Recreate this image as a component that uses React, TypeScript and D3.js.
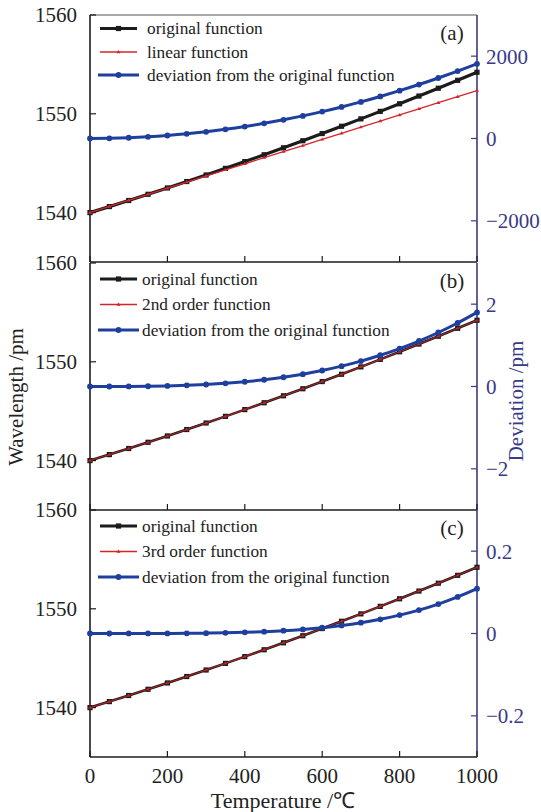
import React from 'react';
import * as d3 from 'd3';

// temperature samples (°C)
const temps = [0, 50, 100, 150, 200, 250, 300, 350, 400, 450, 500, 550, 600, 650, 700, 750, 800, 850, 900, 950, 1000];

// wavelength curves
const originalFn = [1540.0, 1540.607, 1541.225, 1541.854, 1542.493, 1543.144, 1543.805, 1544.477, 1545.161, 1545.854, 1546.559, 1547.274, 1548.001, 1548.738, 1549.486, 1550.246, 1551.015, 1551.796, 1552.588, 1553.389, 1554.203];
const linearFn = [1540.0, 1540.62, 1541.24, 1541.85, 1542.47, 1543.09, 1543.71, 1544.32, 1544.94, 1545.56, 1546.18, 1546.79, 1547.41, 1548.03, 1548.65, 1549.26, 1549.88, 1550.5, 1551.12, 1551.73, 1552.35];
const secondOrderFn = [1540.0, 1540.607, 1541.225, 1541.854, 1542.493, 1543.144, 1543.805, 1544.477, 1545.161, 1545.854, 1546.559, 1547.274, 1548.001, 1548.738, 1549.485, 1550.245, 1551.014, 1551.795, 1552.587, 1553.387, 1554.201];
const thirdOrderFn = [1540.0, 1540.607, 1541.225, 1541.854, 1542.493, 1543.144, 1543.805, 1544.477, 1545.161, 1545.854, 1546.559, 1547.274, 1548.001, 1548.738, 1549.486, 1550.246, 1551.015, 1551.796, 1552.588, 1553.389, 1554.203];

// deviations (pm)
const devLinear = [0, 5, 18, 41, 73, 113, 163, 222, 290, 368, 454, 549, 653, 767, 889, 1021, 1162, 1311, 1470, 1638, 1815];
const devSecond = [0, 0.0002, 0.0018, 0.0061, 0.0144, 0.028, 0.049, 0.077, 0.115, 0.164, 0.225, 0.3, 0.389, 0.494, 0.617, 0.759, 0.922, 1.105, 1.312, 1.543, 1.8];
const devThird = [0, 0, 0.0001, 0.0001, 0.0002, 0.0004, 0.0009, 0.0016, 0.0028, 0.0045, 0.0068, 0.01, 0.0141, 0.0195, 0.0262, 0.0345, 0.0447, 0.0569, 0.0715, 0.0888, 0.109];

const xTicks = [0, 200, 400, 600, 800, 1000];
const leftTicks = [1540, 1550, 1560];
const rightTicksA = [-2000, 0, 2000];
const rightTicksB = [-2, 0, 2];
const rightTicksC = [-0.2, 0, 0.2];

const panelNames = ['(a)', '(b)', '(c)'];
const fitNames = ['linear function', '2nd order function', '3rd order function'];

const BLACK = '#1c1c1c';
const RED = '#d3262b';
const BLUE = '#1f3f9e';
const NAVY = '#3a3a8a';
const FONT = '"Liberation Serif", "Times New Roman", serif';

const W = 541;
const H = 812;
const left = 90;
const right = 477;
const panelTops = [15, 263, 510];
const panelH = 247;

const fmt = (v: number) => (v < 0 ? '\u2212' + String(-v) : String(v));

const panels = [
  { fit: linearFn, dev: devLinear, devMax: 3000, rTicks: rightTicksA },
  { fit: secondOrderFn, dev: devSecond, devMax: 3, rTicks: rightTicksB },
  { fit: thirdOrderFn, dev: devThird, devMax: 0.3, rTicks: rightTicksC },
];

const x = d3.scaleLinear().domain([0, 1000]).range([left, right]);

function Panel({ i }: { i: number }) {
  const p = panels[i];
  const top = panelTops[i];
  const bottom = top + panelH;
  const y = d3.scaleLinear().domain([1535, 1560]).range([bottom, top]);
  const yr = d3.scaleLinear().domain([-p.devMax, p.devMax]).range([bottom, top]);

  const line = d3.line<number>().x((_, k) => x(temps[k])).y(d => y(d));
  const devLine = d3.line<number>().x((_, k) => x(temps[k])).y(d => yr(d)).curve(d3.curveMonotoneX);
  const wLine = d3.line<number>().x((_, k) => x(temps[k])).y(d => y(d)).curve(d3.curveMonotoneX);

  const legY = i === 0 ? [top + 13.5, top + 37, top + 60] : [top + 16, top + 41.5, top + 67];
  const textX = i === 0 ? 147 : 142;
  const l0 = 98;
  const l1 = 139;
  const lm = (l0 + l1) / 2;

  return (
    <g>
      {/* frame */}
      {i === 0 && <line x1={left} x2={right} y1={top} y2={top} stroke="#555" strokeWidth={1.2} />}
      <line x1={left} x2={left} y1={top} y2={bottom} stroke={BLACK} strokeWidth={1.6} />
      <line x1={left} x2={right} y1={bottom} y2={bottom} stroke={BLACK} strokeWidth={1.6} />
      <line x1={right} x2={right} y1={top} y2={bottom} stroke={NAVY} strokeWidth={1.6} />

      {xTicks.map(t => (
        <line key={'xt' + t} x1={x(t)} x2={x(t)} y1={bottom} y2={bottom - 6} stroke={BLACK} strokeWidth={1.2} />
      ))}
      {leftTicks.map(t => (
        <g key={'lt' + t}>
          <line x1={left} x2={left + 6} y1={y(t)} y2={y(t)} stroke={BLACK} strokeWidth={1.2} />
          <text x={77} y={y(t)} dy="0.35em" textAnchor="end" fontSize={21} fill="#222">{t}</text>
        </g>
      ))}
      {p.rTicks.map(t => (
        <g key={'rt' + t}>
          <line x1={right} x2={right - 6} y1={yr(t)} y2={yr(t)} stroke={NAVY} strokeWidth={1.2} />
          <text x={486} y={yr(t)} dy="0.35em" textAnchor="start" fontSize={21} fill={NAVY}>{fmt(t)}</text>
        </g>
      ))}

      {/* original */}
      <path d={wLine(originalFn) || ''} fill="none" stroke={BLACK} strokeWidth={i === 0 ? 3.2 : 2.6} />
      {originalFn.map((v, k) => (
        <rect key={'o' + k} x={x(temps[k]) - 2.6} y={y(v) - 2.6} width={5.2} height={5.2} fill={BLACK} />
      ))}
      {/* fitted */}
      <path d={(i === 0 ? line(p.fit) : wLine(p.fit)) || ''} fill="none" stroke={RED} strokeWidth={i === 0 ? 1.3 : 1.1} opacity={i === 0 ? 1 : 0.75} />
      {p.fit.map((v, k) => (
        <path key={'f' + k} d={`M${x(temps[k]) - 2},${y(v) + 1.2}L${x(temps[k])},${y(v) - 2}L${x(temps[k]) + 2},${y(v) + 1.2}Z`} fill={RED} opacity={i === 0 ? 1 : 0.8} />
      ))}
      {/* deviation */}
      <path d={devLine(p.dev) || ''} fill="none" stroke={BLUE} strokeWidth={3} />
      {p.dev.map((v, k) => (
        <circle key={'d' + k} cx={x(temps[k])} cy={yr(v)} r={2.9} fill={BLUE} />
      ))}

      {/* legend */}
      <line x1={l0 + 2} x2={l1 - 2} y1={legY[0]} y2={legY[0]} stroke={BLACK} strokeWidth={3} />
      <rect x={lm - 2.6} y={legY[0] - 2.6} width={5.2} height={5.2} fill={BLACK} />
      <text x={textX} y={legY[0]} dy="0.32em" fontSize={17.3} fill="#222">original function</text>
      <line x1={l0 + 2} x2={l1 - 2} y1={legY[1]} y2={legY[1]} stroke={RED} strokeWidth={1.3} />
      <path d={`M${lm - 2},${legY[1] + 1.2}L${lm},${legY[1] - 2}L${lm + 2},${legY[1] + 1.2}Z`} fill={RED} />
      <text x={textX} y={legY[1]} dy="0.32em" fontSize={17.3} fill="#222">{fitNames[i]}</text>
      <line x1={l0} x2={l1} y1={legY[2]} y2={legY[2]} stroke={BLUE} strokeWidth={3.2} />
      <circle cx={lm} cy={legY[2]} r={2.9} fill={BLUE} />
      <text x={textX} y={legY[2]} dy="0.32em" fontSize={17.3} fill="#222">deviation from the original function</text>

      <text x={452} y={top + 18} dy="0.35em" textAnchor="middle" fontSize={21} fill="#222">{panelNames[i]}</text>
    </g>
  );
}

export default function App() {
  return (
    <svg width={W} height={H} style={{ position: 'absolute', left: 0, top: 0, background: '#fff' }} fontFamily={FONT}>
      <rect width={W} height={H} fill="#fff" />
      {panels.map((_, i) => <Panel key={i} i={i} />)}
      {xTicks.map(t => (
        <text key={'xl' + t} x={x(t)} y={776} dy="0.35em" textAnchor="middle" fontSize={21} fill="#222">{t}</text>
      ))}
      <text x={283} y={800} dy="0.35em" textAnchor="middle" fontSize={22} fill="#222">Temperature /℃</text>
      <text transform="translate(16,397) rotate(-90)" textAnchor="middle" dy="0.35em" fontSize={21} fill="#222">Wavelength /pm</text>
      <text transform="translate(516,401) rotate(-90)" textAnchor="middle" dy="0.35em" fontSize={21} fill={NAVY}>Deviation /pm</text>
    </svg>
  );
}
